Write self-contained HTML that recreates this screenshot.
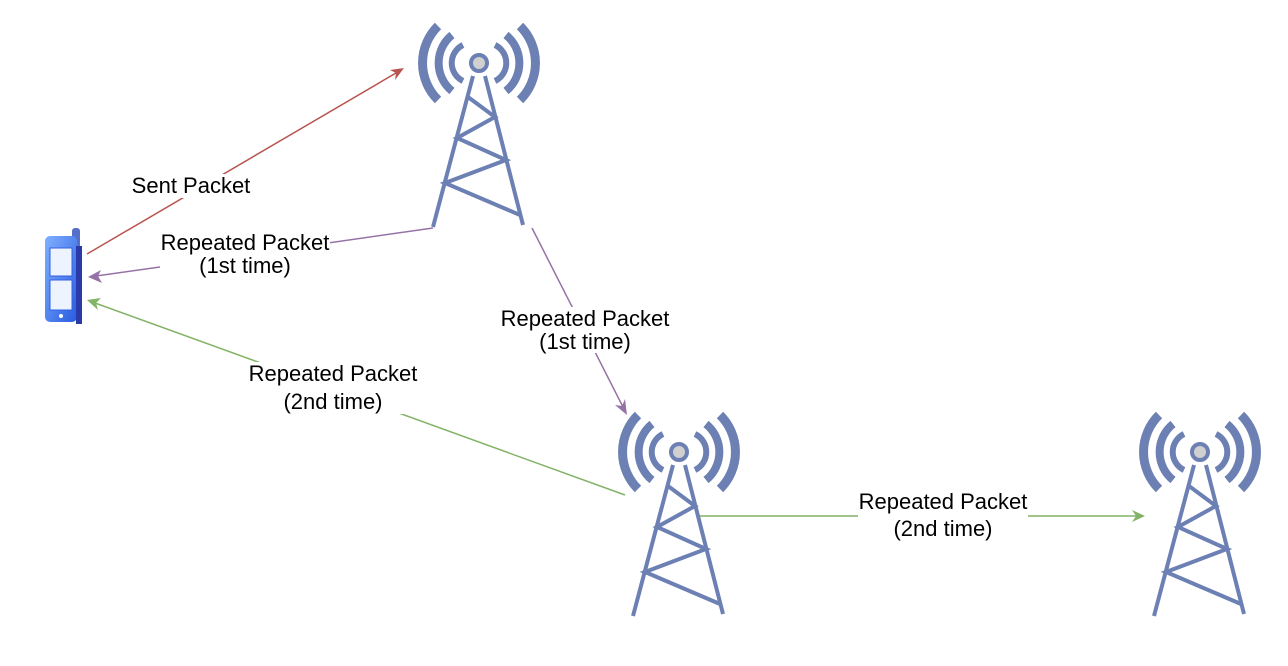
<!DOCTYPE html>
<html><head><meta charset="utf-8"><style>
body{margin:0;background:#fff;width:1288px;height:666px;overflow:hidden}
svg{display:block}
text{font-family:"Liberation Sans",sans-serif;font-size:22px;fill:#000}
</style></head><body>
<svg width="1288" height="666" viewBox="0 0 1288 666" xmlns="http://www.w3.org/2000/svg">
<defs>
<g id="tw" fill="none" stroke="#6c80b4">
  <path d="M463,45 A20,20 0 0 0 463,81 M495,45 A20,20 0 0 1 495,81" stroke-width="6"/>
  <path d="M452,35 A36,36 0 0 0 452,91 M506,35 A36,36 0 0 1 506,91" stroke-width="8"/>
  <path d="M438,26 A52,52 0 0 0 438,100 M520,26 A52,52 0 0 1 520,100" stroke-width="9"/>
  <g stroke-width="4">
  <path d="M473,76 L433,227 M485,76 L523,225"/>
  <path d="M468,97 L495,117 L457,138 L506,160 L445,183 L520,215"/>
  </g>
  <circle cx="479" cy="63" r="8" fill="#d0d0d0" stroke-width="4"/>
</g>
<linearGradient id="pg" x1="0" y1="0" x2="1" y2="1"><stop offset="0" stop-color="#7fb0ff"/><stop offset="1" stop-color="#2a5be0"/></linearGradient>
</defs>
<use href="#tw"/>
<use href="#tw" transform="translate(200,389)"/>
<use href="#tw" transform="translate(721,389)"/>
<g>
  <rect x="72" y="228" width="8" height="20" rx="3" fill="#5570c8"/>
  <rect x="45" y="236" width="32" height="86" rx="5" fill="url(#pg)"/>
  <rect x="76" y="246" width="6" height="78" fill="#2a3aa8"/>
  <rect x="50" y="248" width="22" height="28" fill="#eef4ff" stroke="#3060e0"/>
  <rect x="50" y="280" width="22" height="30" fill="#eef4ff" stroke="#3060e0"/>
  <circle cx="61" cy="316" r="2" fill="#fff"/>
</g>
<line x1="87" y1="254" x2="396" y2="73" stroke="#b85450" stroke-width="1.5"/>
<path d="M404,68 L390,70 L396,73 L395,80 Z" fill="#b85450"/>
<rect x="130" y="174" width="122" height="24" fill="#fff"/>
<text x="191" y="193" text-anchor="middle">Sent Packet</text>
<polyline points="433,228 160,267 96,276" fill="none" stroke="#9673a6" stroke-width="1.5"/>
<path d="M88,277 L101,270 L98,276 L102,283 Z" fill="#9673a6"/>
<rect x="160" y="232" width="170" height="46" fill="#fff"/>
<text x="245" y="250" text-anchor="middle">Repeated Packet</text>
<text x="245" y="273" text-anchor="middle">(1st time)</text>
<line x1="532" y1="228" x2="623" y2="407" stroke="#9673a6" stroke-width="1.5"/>
<path d="M627,415 L615,405 L622,406 L625,399 Z" fill="#9673a6"/>
<rect x="500" y="307" width="170" height="46" fill="#fff"/>
<text x="585" y="326" text-anchor="middle">Repeated Packet</text>
<text x="585" y="349" text-anchor="middle">(1st time)</text>
<line x1="625" y1="495" x2="95" y2="303" stroke="#82b366" stroke-width="1.5"/>
<path d="M87,300 L101,298 L96,303 L98,310 Z" fill="#82b366"/>
<rect x="248" y="362" width="170" height="52" fill="#fff"/>
<text x="333" y="381" text-anchor="middle">Repeated Packet</text>
<text x="333" y="409" text-anchor="middle">(2nd time)</text>
<line x1="700" y1="516" x2="1137" y2="516" stroke="#82b366" stroke-width="1.5"/>
<path d="M1145,516 L1132,510 L1136,516 L1132,522 Z" fill="#82b366"/>
<rect x="858" y="490" width="170" height="52" fill="#fff"/>
<text x="943" y="509" text-anchor="middle">Repeated Packet</text>
<text x="943" y="536" text-anchor="middle">(2nd time)</text>
</svg>
</body></html>
